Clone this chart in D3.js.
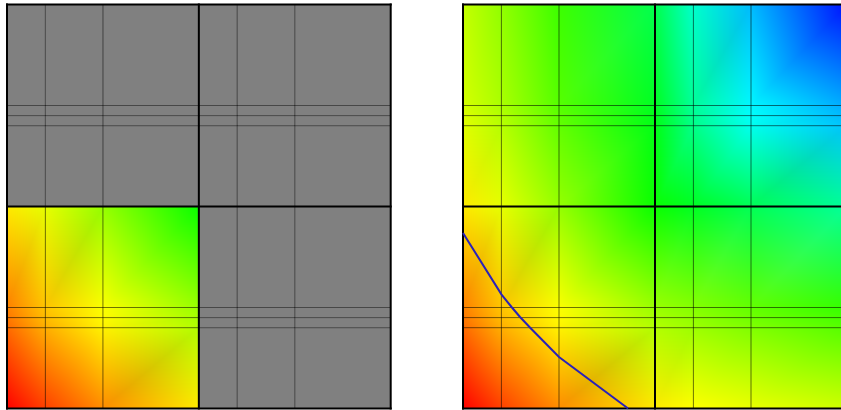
<!DOCTYPE html>
<html lang="en">
<head>
<meta charset="UTF-8">
<title>Mesh field</title>
<script src="https://cdn.jsdelivr.net/npm/d3@7"></script>
<style>
    body { margin: 0; background: #fff; }
    #chart { position: relative; width: 841px; height: 410px; overflow: hidden; }
    #chart canvas, #chart svg { position: absolute; left: 0; top: 0; }
</style>
</head>
<body>
<div id="chart"></div>
<script>
// mesh node coordinates (shared by both panels)
const xNodes = [0, 0.2, 0.5, 1, 1.2, 1.5, 2];
const yNodes = [0, 0.4, 0.45, 0.5, 1, 1.4, 1.45, 1.5, 2];

// nodal values, one row per yNode (bottom to top)
const fieldRows = [
    [0, 15, 33, 55, 60, 65, 72],
    [25, 41, 57, 78, 83, 90, 100],
    [28, 44, 59, 81, 86, 94, 104],
    [30, 46, 61, 84, 89, 97, 108],
    [55, 66, 85, 118, 128, 140, 156],
    [67, 77, 97, 125, 152, 176, 194],
    [68, 78, 98, 126, 154, 179, 197],
    [70, 80, 100, 128, 156, 182, 200],
    [74, 86, 106, 138, 168, 196, 236]
];

// left panel only shows this block, the rest is greyed out
const leftActiveX = [0, 1];
const leftActiveY = [0, 1];

// iso line drawn on the right panel
const contourX = [0, 0.2, 0.255, 0.297, 0.35, 0.5, 0.86];
const contourY = [0.869, 0.565, 0.5, 0.453, 0.4, 0.255, 0];

const W = 841, H = 410;
const panels = [
    { x0: 7, x1: 390.7, masked: true },
    { x0: 463, x1: 847, masked: false }
];

const y = d3.scaleLinear().domain([0, 2]).range([408.5, 4.5]);
const color = d3.scaleLinear()
    .domain([0, 60, 120, 180, 240])
    .range(["#ff0000", "#ffff00", "#00ff00", "#00ffff", "#0000ff"]);

const chart = d3.select('#chart');
const canvas = chart.append('canvas').attr('width', W).attr('height', H).node();
const ctx = canvas.getContext('2d');
const img = ctx.createImageData(W, H);
const svg = chart.append('svg').attr('width', W).attr('height', H);

// gouraud shaded triangle, colours interpolated in rgb
function fillTri(a, b, c) {
    const minX = Math.max(0, Math.floor(Math.min(a.x, b.x, c.x)));
    const maxX = Math.min(W - 1, Math.ceil(Math.max(a.x, b.x, c.x)));
    const minY = Math.max(0, Math.floor(Math.min(a.y, b.y, c.y)));
    const maxY = Math.min(H - 1, Math.ceil(Math.max(a.y, b.y, c.y)));
    const den = (b.y - c.y) * (a.x - c.x) + (c.x - b.x) * (a.y - c.y);
    for (let py = minY; py <= maxY; py++) {
        for (let px = minX; px <= maxX; px++) {
            const sx = px + 0.5, sy = py + 0.5;
            const l1 = ((b.y - c.y) * (sx - c.x) + (c.x - b.x) * (sy - c.y)) / den;
            const l2 = ((c.y - a.y) * (sx - c.x) + (a.x - c.x) * (sy - c.y)) / den;
            const l3 = 1 - l1 - l2;
            if (l1 < -1e-6 || l2 < -1e-6 || l3 < -1e-6) continue;
            const k = (py * W + px) * 4;
            img.data[k] = l1 * a.c.r + l2 * b.c.r + l3 * c.c.r;
            img.data[k + 1] = l1 * a.c.g + l2 * b.c.g + l3 * c.c.g;
            img.data[k + 2] = l1 * a.c.b + l2 * b.c.b + l3 * c.c.b;
            img.data[k + 3] = 255;
        }
    }
}

panels.forEach(p => {
    const x = d3.scaleLinear().domain([0, 2]).range([p.x0, p.x1]);
    const node = (i, j) => ({ x: x(xNodes[i]), y: y(yNodes[j]), c: d3.rgb(color(fieldRows[j][i])) });
    const g = svg.append('g');

    for (let j = 0; j < yNodes.length - 1; j++) {
        for (let i = 0; i < xNodes.length - 1; i++) {
            const on = !p.masked ||
                (xNodes[i] >= leftActiveX[0] && xNodes[i + 1] <= leftActiveX[1] &&
                 yNodes[j] >= leftActiveY[0] && yNodes[j + 1] <= leftActiveY[1]);
            if (on) {
                const bl = node(i, j), br = node(i + 1, j), tr = node(i + 1, j + 1), tl = node(i, j + 1);
                fillTri(bl, br, tr);
                fillTri(bl, tr, tl);
            } else {
                g.append('rect')
                    .attr('x', x(xNodes[i])).attr('y', y(yNodes[j + 1]))
                    .attr('width', x(xNodes[i + 1]) - x(xNodes[i]))
                    .attr('height', y(yNodes[j]) - y(yNodes[j + 1]))
                    .attr('fill', '#808080');
            }
        }
    }

    // thin element edges
    const major = v => v === 0 || v === 1 || v === 2;
    g.selectAll('line.vx').data(xNodes.filter(v => !major(v))).enter().append('line')
        .attr('x1', d => x(d)).attr('x2', d => x(d))
        .attr('y1', y(0)).attr('y2', y(2))
        .attr('stroke', '#000').attr('stroke-opacity', 0.55).attr('stroke-width', 1);
    g.selectAll('line.hy').data(yNodes.filter(v => !major(v))).enter().append('line')
        .attr('x1', x(0)).attr('x2', x(2))
        .attr('y1', d => y(d)).attr('y2', d => y(d))
        .attr('stroke', '#000').attr('stroke-opacity', 0.55).attr('stroke-width', 1);

    // block boundaries
    g.selectAll('line.bx').data(xNodes.filter(major)).enter().append('line')
        .attr('x1', d => x(d)).attr('x2', d => x(d))
        .attr('y1', y(0) + 1).attr('y2', y(2) - 1)
        .attr('stroke', '#000').attr('stroke-width', 2);
    g.selectAll('line.by').data(yNodes.filter(major)).enter().append('line')
        .attr('x1', x(0) - 1).attr('x2', x(2) + 1)
        .attr('y1', d => y(d)).attr('y2', d => y(d))
        .attr('stroke', '#000').attr('stroke-width', 2);

    if (!p.masked) {
        const line = d3.line().x(d => x(d[0])).y(d => y(d[1]));
        g.append('path')
            .datum(contourX.map((v, k) => [v, contourY[k]]))
            .attr('d', line)
            .attr('fill', 'none')
            .attr('stroke', '#2a22b8')
            .attr('stroke-width', 2);
    }
});

ctx.putImageData(img, 0, 0);
</script>
</body>
</html>
